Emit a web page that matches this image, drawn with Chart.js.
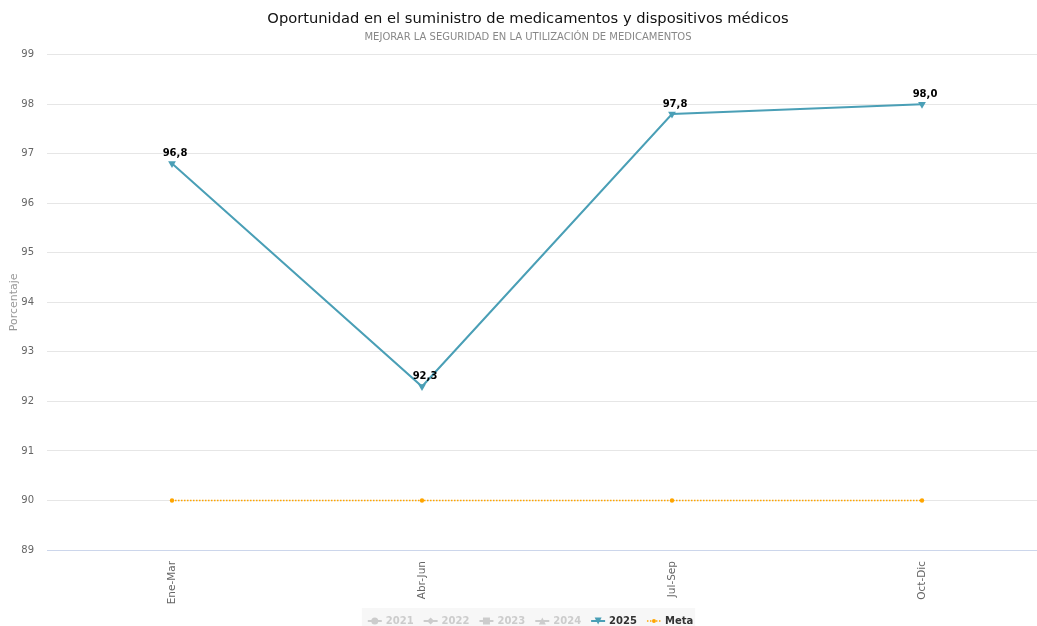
<!DOCTYPE html>
<html>
<head>
<meta charset="utf-8">
<script src="https://cdn.jsdelivr.net/npm/chart.js@4/dist/chart.umd.min.js"></script>
<style>
  html, body { margin: 0; padding: 0; overflow: hidden; background: #ffffff; }
  canvas { display: block; }
</style>
</head>
<body>
<canvas id="grafico" width="1056" height="626"></canvas>
<script>
// Periodos trimestrales y valores del indicador
const periodos = ['Ene-Mar', 'Abr-Jun', 'Jul-Sep', 'Oct-Dic'];
const valores2025 = [96.8, 92.3, 97.8, 98.0];
const valoresMeta = [90, 90, 90, 90];
const ejeYMin = 89;
const ejeYMax = 99;
const ejeYPaso = 1;

const titulo = 'Oportunidad en el suministro de medicamentos y dispositivos médicos';
const subtitulo = 'MEJORAR LA SEGURIDAD EN LA UTILIZACIÓN DE MEDICAMENTOS';
const tituloEjeY = 'Porcentaje';

// Series de la leyenda (los años anteriores aparecen desactivados)
const leyendaNombres = ['2021', '2022', '2023', '2024', '2025', 'Meta'];
const leyendaSimbolos = ['circle', 'diamond', 'square', 'triangle', 'triangleDown', 'circle'];
const leyendaActiva = [false, false, false, false, true, true];

const FUENTE = '"DejaVu Sans", sans-serif';
const COLOR_2025 = '#4a9fb6';
const COLOR_META = '#ffa500';
const COLOR_INACTIVO = '#cccccc';

const formatoComa = v => v.toFixed(1).replace('.', ',');

function dibujarMarcador(ctx, tipo, x, y, r, color) {
  ctx.save();
  ctx.fillStyle = color;
  ctx.beginPath();
  if (tipo === 'circle') {
    ctx.arc(x, y, r, 0, Math.PI * 2);
  } else if (tipo === 'diamond') {
    ctx.moveTo(x, y - r); ctx.lineTo(x + r, y); ctx.lineTo(x, y + r); ctx.lineTo(x - r, y);
  } else if (tipo === 'square') {
    ctx.rect(x - r, y - r, 2 * r, 2 * r);
  } else if (tipo === 'triangle') {
    ctx.moveTo(x, y - r); ctx.lineTo(x + r, y + r); ctx.lineTo(x - r, y + r);
  } else if (tipo === 'triangleDown') {
    ctx.moveTo(x - r, y - r); ctx.lineTo(x + r, y - r); ctx.lineTo(x, y + r);
  }
  ctx.closePath();
  ctx.fill();
  ctx.restore();
}

// Etiquetas de valor sobre los puntos de la serie 2025
const etiquetasValor = {
  id: 'etiquetasValor',
  afterDatasetsDraw(chart) {
    const ctx = chart.ctx;
    chart.data.datasets.forEach((ds, i) => {
      if (!ds.conEtiquetas) return;
      const meta = chart.getDatasetMeta(i);
      meta.data.forEach((pt, j) => {
        const v = ds.data[j];
        if (v == null) return;
        ctx.save();
        ctx.font = 'bold 10px ' + FUENTE;
        ctx.fillStyle = '#000000';
        ctx.textAlign = 'center';
        ctx.textBaseline = 'middle';
        ctx.fillText(formatoComa(v), pt.x + 3, pt.y - 10);
        ctx.restore();
      });
    });
  }
};

// Leyenda inferior con símbolo de línea y marcador
const leyendaInferior = {
  id: 'leyendaInferior',
  afterDraw(chart) {
    const ctx = chart.ctx;
    ctx.save();
    ctx.font = 'bold 10px ' + FUENTE;
    const simboloAncho = 14, separacion = 4, distancia = 10;
    const anchos = leyendaNombres.map(n => ctx.measureText(n).width);
    let total = 0;
    anchos.forEach(a => { total += simboloAncho + separacion + a; });
    total += distancia * (leyendaNombres.length - 1);
    const cx = 530.5;
    const yCentro = 621;
    ctx.fillStyle = '#f7f7f7';
    ctx.fillRect(cx - total / 2 - 6, 608, total + 8, 30);
    let x = cx - total / 2;
    leyendaNombres.forEach((nombre, i) => {
      const activo = leyendaActiva[i];
      const color = !activo ? COLOR_INACTIVO : (nombre === 'Meta' ? COLOR_META : COLOR_2025);
      ctx.strokeStyle = color;
      ctx.lineWidth = nombre === 'Meta' ? 1.5 : 2;
      ctx.setLineDash(nombre === 'Meta' ? [1.5, 1.5] : []);
      ctx.beginPath();
      ctx.moveTo(x, yCentro);
      ctx.lineTo(x + simboloAncho, yCentro);
      ctx.stroke();
      ctx.setLineDash([]);
      dibujarMarcador(ctx, leyendaSimbolos[i], x + simboloAncho / 2, yCentro, nombre === 'Meta' ? 2 : 3.5, color);
      ctx.fillStyle = activo ? '#333333' : COLOR_INACTIVO;
      ctx.textAlign = 'left';
      ctx.textBaseline = 'middle';
      ctx.fillText(nombre, x + simboloAncho + separacion, yCentro);
      x += simboloAncho + separacion + anchos[i] + distancia;
    });
    ctx.restore();
  }
};

const datasets = [
  { label: '2021', data: [], hidden: true },
  { label: '2022', data: [], hidden: true },
  { label: '2023', data: [], hidden: true },
  { label: '2024', data: [], hidden: true },
  {
    label: '2025',
    data: valores2025,
    borderColor: COLOR_2025,
    backgroundColor: COLOR_2025,
    borderWidth: 2,
    pointStyle: 'triangle',
    rotation: 180,
    pointRadius: 4.5,
    pointBorderWidth: 0,
    tension: 0,
    conEtiquetas: true
  },
  {
    label: 'Meta',
    data: valoresMeta,
    borderColor: COLOR_META,
    backgroundColor: COLOR_META,
    borderWidth: 1.5,
    borderDash: [1.5, 1.5],
    pointStyle: 'circle',
    pointRadius: 2.2,
    pointBorderWidth: 0,
    tension: 0
  }
];

new Chart(document.getElementById('grafico'), {
  type: 'line',
  data: { labels: periodos, datasets },
  options: {
    responsive: false,
    animation: false,
    layout: { padding: { left: 9, right: 9, top: 0, bottom: 0 } },
    plugins: {
      legend: { display: false },
      tooltip: { enabled: false },
      title: {
        display: true,
        text: titulo,
        color: '#111111',
        font: { family: FUENTE, size: 14.7, weight: 'normal' },
        padding: { top: 10, bottom: 2 }
      },
      subtitle: {
        display: true,
        text: subtitulo,
        color: '#888888',
        font: { family: FUENTE, size: 10, weight: 'normal' },
        padding: { top: 2, bottom: 11 }
      }
    },
    scales: {
      x: {
        offset: true,
        grid: { display: false },
        border: { display: true, color: '#ccd6eb', width: 1 },
        ticks: {
          color: '#666666',
          font: { family: FUENTE, size: 10.5 },
          minRotation: 90,
          maxRotation: 90,
          autoSkip: false,
          padding: 3
        },
        afterFit(s) { s.height = 76; }
      },
      y: {
        min: ejeYMin,
        max: ejeYMax,
        ticks: {
          stepSize: ejeYPaso,
          color: '#666666',
          font: { family: FUENTE, size: 10 },
          padding: 13
        },
        grid: {
          drawTicks: false,
          color: ctx => ctx.tick && ctx.tick.value === ejeYMin ? '#ccd6eb' : '#e6e6e6'
        },
        border: { display: false },
        title: {
          display: true,
          text: tituloEjeY,
          color: '#999999',
          font: { family: FUENTE, size: 11 },
          padding: { top: -1, bottom: 0 }
        },
        afterFit(s) { s.width = 38; }
      }
    }
  },
  plugins: [etiquetasValor, leyendaInferior]
});
</script>
</body>
</html>
